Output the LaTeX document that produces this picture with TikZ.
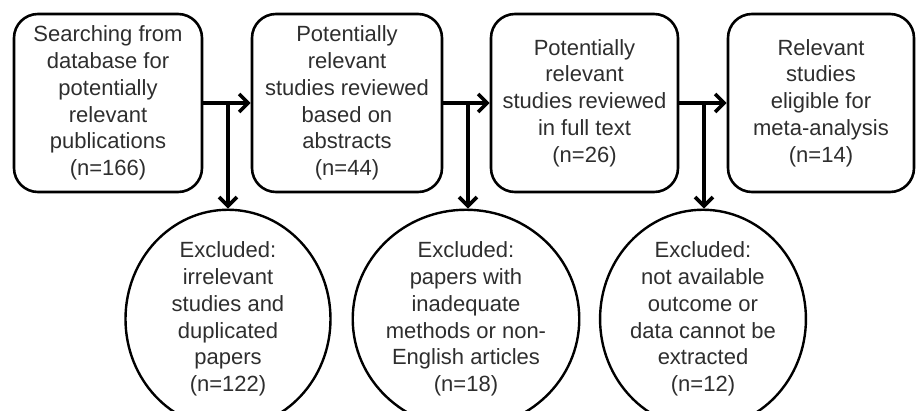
\documentclass[tikz,border=0pt]{standalone}
\usepackage{fontspec}
\setmainfont{Liberation Sans}
\usetikzlibrary{shapes.geometric,arrows.meta}
\begin{document}
\begin{tikzpicture}[x=1pt,y=-1pt,
  box/.style={draw=black,line width=2.6pt,rounded corners=24pt,minimum height=178pt,inner sep=0pt,align=center,text=black!82,font=\fontsize{22}{26.8}\selectfont},
  excl/.style={draw=black,line width=2.4pt,ellipse,minimum width=205pt,minimum height=194pt,inner sep=0pt,align=center,text=black!82,font=\fontsize{22}{26.8}\selectfont},
  flow/.style={line width=3.6pt,-{Straight Barb[length=9pt,width=18pt,line width=3.6pt]}},
  branch/.style={line width=3.6pt}]
\useasboundingbox (0,0) rectangle (916,410);
\clip (0,0) rectangle (916,410);
\node[box,minimum width=188pt] (b1) at (108,103) {Searching from\\database for\\potentially\\relevant\\publications\\(n=166)};
\node[box,minimum width=190pt] (b2) at (347,103) {Potentially\\relevant\\studies reviewed\\based on\\abstracts\\(n=44)};
\node[box,minimum width=187pt] (b3) at (584.5,103) {Potentially\\relevant\\studies reviewed\\in full text\\(n=26)};
\node[box,minimum width=186pt] (b4) at (821,103) {Relevant\\studies\\eligible for\\meta-analysis\\(n=14)};
\node[excl] (c1) at (228,319) {Excluded:\\irrelevant\\studies and\\duplicated\\papers\\(n=122)};
\node[excl] (c2) at (466,319) {Excluded:\\papers with\\inadequate\\methods or non-\\English articles\\(n=18)};
\node[excl] (c3) at (703,319) {Excluded:\\not available\\outcome or\\data cannot be\\extracted\\(n=12)};
\coordinate (j1) at (228,103);
\coordinate (j2) at (468,103);
\coordinate (j3) at (704,103);
\draw[flow] (b1) -- (b2);
\draw[flow] (b2) -- (b3);
\draw[flow] (b3) -- (b4);
\draw[flow] (j1) -- (c1.north);
\draw[flow] (j2) -- (j2 |- c2.north);
\draw[flow] (j3) -- (j3 |- c3.north);
\end{tikzpicture}
\end{document}
